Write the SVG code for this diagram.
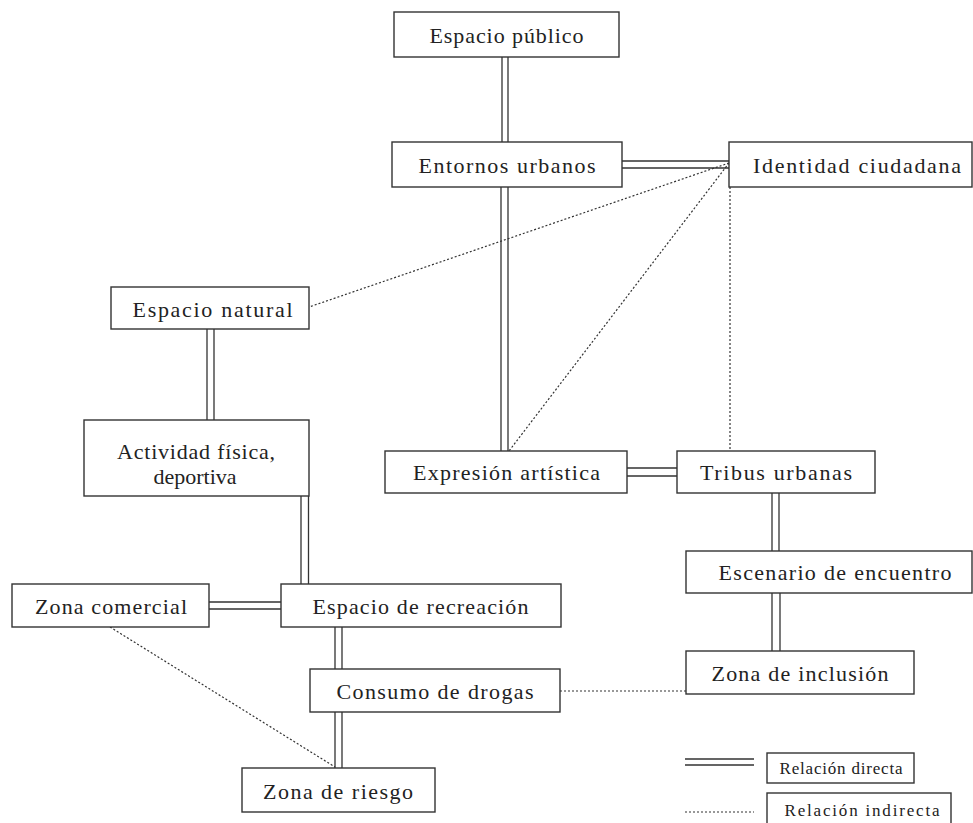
<svg xmlns="http://www.w3.org/2000/svg" width="973" height="823" viewBox="0 0 973 823">
<style>
.box{fill:#fff;stroke:#333;stroke-width:1.4}
.t{font-family:"Liberation Serif","DejaVu Serif",serif;font-size:22px;fill:#222;text-anchor:middle}
.s{font-size:17px}
.d{stroke:#333;stroke-width:1.3;fill:none}
.i{stroke:#333;stroke-width:1.2;stroke-dasharray:2 2;fill:none}
</style>
<rect width="973" height="823" fill="#fff"/>
<g id="connectors">
<path class="d" d="M502 57V142M508 57V142"/>
<path class="d" d="M622 161H729M622 168H729"/>
<path class="d" d="M501 187V451M508 187V451"/>
<path class="d" d="M207 329V420M214 329V420"/>
<path class="d" d="M301 496V584M308.5 496V584"/>
<path class="d" d="M209 602H281M209 609H281"/>
<path class="d" d="M335 627V669M342 627V669"/>
<path class="d" d="M335 712V768M342 712V768"/>
<path class="d" d="M627 468H677M627 476H677"/>
<path class="d" d="M772 493V551M779 493V551"/>
<path class="d" d="M772 593V651M780 593V651"/>
<path class="i" d="M729 163L309 307"/>
<path class="i" d="M729 163L509 451"/>
<path class="i" d="M730 187V451"/>
<path class="i" d="M110 627L335 767"/>
<path class="i" d="M560 691H686"/>
</g>
<g id="publico"><rect class="box" x="394" y="12" width="225" height="45"/><text class="t" x="506.5" y="43" textLength="154" lengthAdjust="spacing">Espacio público</text></g>
<g id="entornos"><rect class="box" x="392" y="142" width="230" height="45"/><text class="t" x="507" y="173" textLength="177" lengthAdjust="spacing">Entornos urbanos</text></g>
<g id="identidad"><rect class="box" x="729" y="142" width="243" height="45"/><text class="t" x="857" y="173" textLength="208" lengthAdjust="spacing">Identidad ciudadana</text></g>
<g id="natural"><rect class="box" x="111" y="287" width="198" height="42"/><text class="t" x="212.5" y="316.5" textLength="160" lengthAdjust="spacing">Espacio natural</text></g>
<g id="actividad"><rect class="box" x="84" y="420" width="225" height="76"/><text class="t" x="196" y="459" textLength="158" lengthAdjust="spacing">Actividad física,</text><text class="t" x="195" y="484" textLength="83" lengthAdjust="spacing">deportiva</text></g>
<g id="expresion"><rect class="box" x="385" y="451" width="242" height="42"/><text class="t" x="506.5" y="480" textLength="187" lengthAdjust="spacing">Expresión artística</text></g>
<g id="tribus"><rect class="box" x="677" y="451" width="198" height="42"/><text class="t" x="776" y="480" textLength="152" lengthAdjust="spacing">Tribus urbanas</text></g>
<g id="escenario"><rect class="box" x="686" y="551" width="286" height="42"/><text class="t" x="835" y="580" textLength="233" lengthAdjust="spacing">Escenario de encuentro</text></g>
<g id="inclusion"><rect class="box" x="686" y="651" width="228" height="43"/><text class="t" x="800" y="681" textLength="177" lengthAdjust="spacing">Zona de inclusión</text></g>
<g id="comercial"><rect class="box" x="12" y="584" width="197" height="43"/><text class="t" x="111" y="614" textLength="152" lengthAdjust="spacing">Zona comercial</text></g>
<g id="recreacion"><rect class="box" x="281" y="584" width="280" height="43"/><text class="t" x="420.5" y="614" textLength="216" lengthAdjust="spacing">Espacio de recreación</text></g>
<g id="consumo"><rect class="box" x="310" y="669" width="250" height="43"/><text class="t" x="435" y="699" textLength="197" lengthAdjust="spacing">Consumo de drogas</text></g>
<g id="riesgo"><rect class="box" x="242" y="768" width="193" height="44"/><text class="t" x="338" y="798.5" textLength="150" lengthAdjust="spacing">Zona de riesgo</text></g>
<g id="legend">
<path class="d" d="M685 759H754M685 765H754"/>
<path class="i" d="M685 812H754"/>
<rect class="box" x="767" y="753" width="147" height="30"/><text class="t s" x="841" y="774" textLength="123" lengthAdjust="spacing">Relación directa</text>
<rect class="box" x="767" y="793" width="184" height="40"/><text class="t s" x="862" y="816" textLength="155" lengthAdjust="spacing">Relación indirecta</text>
</g>
</svg>
